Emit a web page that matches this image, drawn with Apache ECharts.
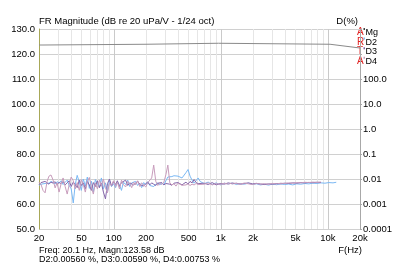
<!DOCTYPE html>
<html>
<head>
<meta charset="utf-8">
<script src="https://cdn.jsdelivr.net/npm/echarts@6/dist/echarts.min.js"></script>
<style>
  html, body { margin: 0; padding: 0; background: #fff; }
  #chart { width: 400px; height: 267px; }
</style>
</head>
<body>
<div id="chart"></div>
<script>
// magnitude (dB) - left axis
const freqMg = [20, 21.8, 22, 200, 205, 950, 970, 10500, 20000]
const magn = [123.6, 123.6, 123.9, 123.9, 124.3, 124.3, 123.9, 123.9, 122.4]

// distortion (%) - right axis
const freqD = [
  20, 20.9, 21.8, 22.8, 23.8, 24.8, 25.9, 27.1, 28.3, 29.5,
  30.8, 32.2, 33.6, 35.1, 36.7, 38.3, 40, 41.8, 43.6, 45.5,
  47.6, 49.7, 51.9, 54.2, 56.6, 59.1, 61.7, 64.4, 67.3, 70.3,
  73.4, 76.6, 80, 83.6, 87.3, 91.1, 95.2, 99.4, 104, 108,
  113, 118, 123, 129, 135, 141, 147, 153, 160, 167,
  175, 182, 190, 199, 208, 217, 226, 236, 247, 258,
  269, 281, 294, 307, 320, 334, 349, 365, 381, 398,
  415, 434, 453, 473, 494, 516, 539, 563, 588, 614,
  641, 699, 762, 831, 906, 988, 1078, 1175, 1282, 1398,
  1524, 1662, 1813, 1977, 2156, 2351, 2564, 2796, 3049, 3325,
  3626, 3954, 4312, 4702, 5128, 5592, 6098, 6650, 7252, 7908,
  8624, 9405, 10256, 11184, 12000
]
const d2 = [
  0.0056, 0.0062, 0.0070, 0.0066, 0.0075, 0.0068, 0.0080, 0.0072, 0.0064, 0.0078,
  0.0070, 0.0085, 0.0060, 0.0074, 0.0090, 0.0055, 0.0040, 0.0011, 0.0060, 0.0140,
  0.0075, 0.0035, 0.0100, 0.0052, 0.0120, 0.0042, 0.0082, 0.0030, 0.0095, 0.0062,
  0.0046, 0.0110, 0.0040, 0.0070, 0.0032, 0.0088, 0.0050, 0.0065, 0.0045, 0.0080,
  0.0058, 0.0035, 0.0075, 0.0060, 0.0090, 0.0050, 0.0070, 0.0062, 0.0080, 0.0055,
  0.0068, 0.0045, 0.0072, 0.0060, 0.0078, 0.0055, 0.0066, 0.0050, 0.0062, 0.0070,
  0.0058, 0.0068, 0.0060, 0.0085, 0.0120, 0.0140, 0.0125, 0.0135, 0.0115, 0.0130,
  0.0120, 0.0110, 0.0128, 0.0180, 0.0240, 0.0130, 0.0090, 0.0068, 0.0085, 0.0110,
  0.0080, 0.0065, 0.0075, 0.0060, 0.0070, 0.0058, 0.0068, 0.0063, 0.0070, 0.0060,
  0.0066, 0.0062, 0.0068, 0.0061, 0.0064, 0.0058, 0.0062, 0.0057, 0.0063, 0.0059,
  0.0064, 0.0060, 0.0063, 0.0058, 0.0064, 0.0062, 0.0066, 0.0064, 0.0068, 0.0066,
  0.0070, 0.0068, 0.0072, 0.0070, 0.0074
]
const d3 = [
  0.0059, 0.0072, 0.0065, 0.0080, 0.0070, 0.0062, 0.0075, 0.0068, 0.0078, 0.0060,
  0.0072, 0.0066, 0.0080, 0.0058, 0.0070, 0.0085, 0.0050, 0.0075, 0.0060, 0.0045,
  0.0090, 0.0055, 0.0070, 0.0040, 0.0080, 0.0058, 0.0035, 0.0072, 0.0050, 0.0085,
  0.0045, 0.0068, 0.0030, 0.0016, 0.0065, 0.0100, 0.0052, 0.0078, 0.0060, 0.0085,
  0.0050, 0.0072, 0.0063, 0.0090, 0.0055, 0.0070, 0.0078, 0.0058, 0.0068, 0.0082,
  0.0060, 0.0072, 0.0052, 0.0066, 0.0075, 0.0058, 0.0070, 0.0062, 0.0055, 0.0068,
  0.0060, 0.0072, 0.0058, 0.0066, 0.0078, 0.0062, 0.0056, 0.0068, 0.0060, 0.0072,
  0.0064, 0.0058, 0.0066, 0.0075, 0.0062, 0.0080, 0.0070, 0.0095, 0.0072, 0.0065,
  0.0078, 0.0068, 0.0060, 0.0072, 0.0058, 0.0066, 0.0062, 0.0070, 0.0064, 0.0068,
  0.0062, 0.0066, 0.0070, 0.0064, 0.0067, 0.0063, 0.0060, 0.0064, 0.0062, 0.0066,
  0.0064, 0.0068, 0.0066, 0.0070, 0.0068, 0.0072, 0.0070, 0.0073, 0.0071, 0.0074,
  0.0072
]
const d4 = [
  0.0075, 0.0060, 0.0035, 0.0028, 0.0080, 0.0130, 0.0145, 0.0090, 0.0044, 0.0070,
  0.0030, 0.0065, 0.0110, 0.0050, 0.0025, 0.0060, 0.0120, 0.0085, 0.0040, 0.0072,
  0.0035, 0.0095, 0.0060, 0.0030, 0.0080, 0.0115, 0.0050, 0.0025, 0.0070, 0.0040,
  0.0090, 0.0055, 0.0100, 0.0045, 0.0028, 0.0070, 0.0055, 0.0085, 0.0050, 0.0075,
  0.0040, 0.0090, 0.0060, 0.0048, 0.0080, 0.0065, 0.0045, 0.0075, 0.0058, 0.0085,
  0.0050, 0.0070, 0.0062, 0.0048, 0.0072, 0.0060, 0.0110, 0.0360, 0.0080, 0.0055,
  0.0068, 0.0060, 0.0075, 0.0150, 0.0360, 0.0070, 0.0058, 0.0065, 0.0052, 0.0068,
  0.0060, 0.0056, 0.0066, 0.0058, 0.0064, 0.0055, 0.0062, 0.0058, 0.0066, 0.0060,
  0.0070, 0.0062, 0.0070, 0.0058, 0.0066, 0.0060, 0.0068, 0.0062, 0.0070, 0.0065,
  0.0063, 0.0069, 0.0064, 0.0060, 0.0066, 0.0062, 0.0065, 0.0061, 0.0067, 0.0063,
  0.0068, 0.0066, 0.0070, 0.0068, 0.0072, 0.0070, 0.0074, 0.0072, 0.0075, 0.0073,
  0.0076
]

// axis ticks
const freqLabels = [20, 50, 100, 200, 500, 1000, 2000, 5000, 10000, 20000]
const freqGrid = [
  20, 30, 40, 50, 60, 70, 80, 90, 100,
  200, 300, 400, 500, 600, 700, 800, 900, 1000,
  2000, 3000, 4000, 5000, 6000, 7000, 8000, 9000, 10000, 20000
]
const freqDecades = [100, 1000, 10000]

const seriesNames = ['Mg', 'D2', 'D3', 'D4']
const seriesColors = ['#8a8a8a', '#7ab8f4', '#8466aa', '#c89cbc']
const artaLetters = ['A', 'R', 'T', 'A']

const FONT = 'Liberation Sans, Arial, sans-serif'
const chart = echarts.init(document.getElementById('chart'), null, { renderer: 'canvas' })

const pairs = (xs, ys) => ys.map((v, i) => [xs[i], v])

const legendGraphics = []
seriesNames.forEach((name, i) => {
  const y = 32.5 + i * 9.6
  legendGraphics.push({
    type: 'text', left: 357, top: y - 5,
    style: { text: artaLetters[i], fill: '#e02020', font: '10px ' + FONT }
  })
  legendGraphics.push({
    type: 'rect', left: 363.5, top: y - 4.5,
    shape: { width: 1.5, height: 2 },
    style: { fill: i === 0 ? '#404040' : seriesColors[i] }
  })
  legendGraphics.push({
    type: 'text', left: 365.5, top: y - 4.5,
    style: { text: name, fill: '#000', font: '9px ' + FONT }
  })
})

const option = {
  animation: false,
  backgroundColor: '#fff',
  textStyle: { fontFamily: FONT },
  grid: { left: 39, right: 40, top: 29, bottom: 38 },
  xAxis: [
    {
      type: 'log',
      min: 20,
      max: 20000,
      axisLine: { show: false },
      axisTick: { show: false, customValues: freqGrid },
      splitLine: { show: true, lineStyle: { color: '#e6e6e6', width: 1 } },
      axisLabel: {
        customValues: freqLabels,
        fontSize: 9.5,
        color: '#000',
        margin: 4,
        formatter: v => (v >= 1000 ? Math.round(v / 1000) + 'k' : String(Math.round(v)))
      }
    },
    {
      type: 'log',
      min: 20,
      max: 20000,
      axisLine: { show: false },
      axisTick: { show: false, customValues: freqDecades },
      axisLabel: { show: false },
      splitLine: { show: true, lineStyle: { color: '#cacaca', width: 1 } }
    }
  ],
  yAxis: [
    {
      type: 'value',
      min: 50,
      max: 130,
      interval: 10,
      position: 'left',
      axisLine: { show: true, lineStyle: { color: '#a8a858', width: 1 } },
      axisTick: { show: false },
      splitLine: { show: true, lineStyle: { color: '#d0d0d0', width: 1 } },
      axisLabel: { fontSize: 9.5, color: '#000', margin: 4, formatter: v => v.toFixed(1) }
    },
    {
      type: 'log',
      min: 0.0001,
      max: 10000,
      splitNumber: 8,
      position: 'right',
      axisLine: { show: true, lineStyle: { color: '#a8a8a8', width: 1 } },
      axisTick: { show: true, length: 2, lineStyle: { color: '#a8a8a8' } },
      splitLine: { show: false },
      axisLabel: {
        fontSize: 9.5,
        color: '#000',
        margin: 3,
        formatter: v => {
          const e = Math.round(Math.log10(v))
          if (e > 2) return ''
          return e < 0 ? Math.pow(10, e).toFixed(-e) : Math.pow(10, e).toFixed(1)
        }
      }
    }
  ],
  series: [
    {
      name: 'Mg', type: 'line', xAxisIndex: 0, yAxisIndex: 0,
      data: pairs(freqMg, magn), showSymbol: false,
      lineStyle: { color: seriesColors[0], width: 1 }, itemStyle: { color: seriesColors[0] }
    },
    {
      name: 'D2', type: 'line', xAxisIndex: 0, yAxisIndex: 1,
      data: pairs(freqD, d2), showSymbol: false,
      lineStyle: { color: seriesColors[1], width: 1 }, itemStyle: { color: seriesColors[1] }
    },
    {
      name: 'D3', type: 'line', xAxisIndex: 0, yAxisIndex: 1,
      data: pairs(freqD, d3), showSymbol: false,
      lineStyle: { color: seriesColors[2], width: 1 }, itemStyle: { color: seriesColors[2] }
    },
    {
      name: 'D4', type: 'line', xAxisIndex: 0, yAxisIndex: 1,
      data: pairs(freqD, d4), showSymbol: false,
      lineStyle: { color: seriesColors[3], width: 1 }, itemStyle: { color: seriesColors[3] }
    }
  ],
  graphic: [
    {
      type: 'text', left: 39, top: 16.5,
      style: { text: 'FR Magnitude (dB re 20 uPa/V - 1/24 oct)', fill: '#000', font: '9.5px ' + FONT }
    },
    {
      type: 'text', right: 42, top: 16.5,
      style: { text: 'D(%)', fill: '#000', font: '9.5px ' + FONT }
    },
    {
      type: 'text', right: 38, top: 245.5,
      style: { text: 'F(Hz)', fill: '#000', font: '9.5px ' + FONT }
    },
    {
      type: 'text', left: 39, top: 246,
      style: { text: 'Freq: 20.1 Hz, Magn:123.58 dB', fill: '#000', font: '9px ' + FONT }
    },
    {
      type: 'text', left: 39, top: 255.5,
      style: { text: 'D2:0.00560 %, D3:0.00590 %, D4:0.00753 %', fill: '#000', font: '9px ' + FONT }
    },
    ...legendGraphics
  ]
}

chart.setOption(option)
</script>
</body>
</html>
